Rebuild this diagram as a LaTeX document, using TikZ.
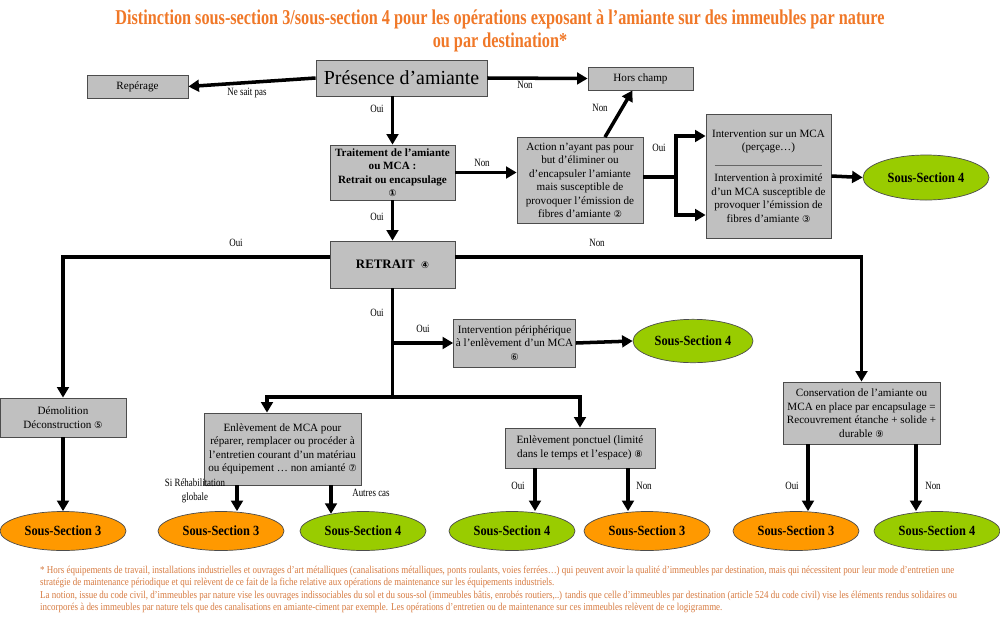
\documentclass[tikz,border=0pt]{standalone}
\usepackage{fontspec}
\setmainfont{Liberation Serif}
\newfontfamily\narrow[FakeStretch=0.8]{Liberation Serif}
\newfontfamily\headfont[FakeStretch=0.77]{Liberation Serif}
\newfontfamily\ovalfont[FakeStretch=0.88]{Liberation Serif}
\newfontfamily\notefont[FakeStretch=0.85]{Liberation Serif}
\newfontfamily\symb{DejaVu Sans}
\usetikzlibrary{arrows.meta,shapes.geometric}
\definecolor{titleorange}{RGB}{240,120,40}
\definecolor{noteorange}{RGB}{214,122,64}
\definecolor{ssorange}{RGB}{255,153,0}
\definecolor{ssgreen}{RGB}{153,204,0}
\definecolor{boxgray}{RGB}{192,192,192}
\newcommand\numc[1]{{\symb\fontsize{8}{9}\selectfont#1}}
\begin{document}
\begin{tikzpicture}[x=0.3mm,y=-0.3mm,
  box/.style={draw=black!70,fill=boxgray,line width=0.7pt,align=center,inner sep=2pt,
    font=\fontsize{9.5}{11.5}\selectfont},
  sect/.style={ellipse,draw=black!70,line width=0.6pt,inner sep=0pt,
    minimum width=37.8mm,minimum height=11.7mm,font=\ovalfont\bfseries\fontsize{12}{14}\selectfont},
  ss3/.style={sect,fill=ssorange},
  ss4/.style={sect,fill=ssgreen},
  lbl/.style={font=\narrow\fontsize{9.5}{11.5}\selectfont,align=center,inner sep=0pt},
  ln/.style={line width=3pt},
  arr/.style={ln,-{Triangle[length=9pt,width=10pt]}}]
\useasboundingbox (0,0) rectangle (1000,637);
% title
\node[text=titleorange,font=\headfont\bfseries\fontsize{18}{19}\selectfont,align=center] (title) at (500,31)
  {Distinction sous-section 3/sous-section 4 pour les opérations exposant à l’amiante sur des immeubles par nature\\ou par destination*};
% boxes
\node[box,minimum width=51.3mm,minimum height=10.8mm,font=\fontsize{17}{19}\selectfont] (pres) at (401.5,78) {Présence d’amiante};
\node[box,minimum width=30.3mm,minimum height=6.9mm] (rep) at (137.5,86.5) {Repérage};
\node[box,minimum width=31.5mm,minimum height=6.9mm] (hors) at (640.5,78.5) {Hors champ};
\node[box,minimum width=37.5mm,minimum height=16.5mm,font=\bfseries\fontsize{9.5}{11.5}\selectfont] (trait) at (392.5,172.5)
  {Traitement de l’amiante\\ou MCA :\\Retrait ou encapsulage\\\numc{①}};
\node[box,minimum width=37.8mm,minimum height=25.8mm] (action) at (580,180.5)
  {Action n’ayant pas pour\\but d’éliminer ou\\d’encapsuler l’amiante\\mais susceptible de\\provoquer l’émission de\\fibres d’amiante \numc{②}};
\node[box,minimum width=37.5mm,minimum height=37.2mm] (inter) at (768.5,176)
  {Intervention sur un MCA\\(perçage…)\\[15pt]Intervention à proximité\\d’un MCA susceptible de\\provoquer l’émission de\\fibres d’amiante \numc{③}};
\draw[black!60,line width=0.6pt] ([xshift=2.7mm,yshift=3.3mm]inter.west) -- ([xshift=-2.7mm,yshift=3.3mm]inter.east);
\node[box,minimum width=37.5mm,minimum height=14.1mm,font=\bfseries\fontsize{11}{13}\selectfont] (retrait) at (392.5,264.5) {RETRAIT\enspace\numc{④}};
\node[box,minimum width=35.7mm,minimum height=14.4mm] (periph) at (514.5,343)
  {Intervention périphérique\\à l’enlèvement d’un MCA\\\numc{⑥}};
\node[box,minimum width=37.8mm,minimum height=11.7mm] (demol) at (63,417.5) {Démolition\\Déconstruction \numc{⑤}};
\node[box,minimum width=47.1mm,minimum height=21.6mm] (enlev) at (282.5,449)
  {Enlèvement de MCA pour\\réparer, remplacer ou procéder à\\l’entretien courant d’un matériau\\ou équipement … non amianté \numc{⑦}};
\node[box,minimum width=45mm,minimum height=12mm] (ponct) at (580,448)
  {Enlèvement ponctuel (limité\\dans le temps et l’espace) \numc{⑧}};
\node[box,minimum width=47.1mm,minimum height=18.6mm] (cons) at (861.5,413)
  {Conservation de l’amiante ou\\MCA en place par encapsulage =\\Recouvrement étanche + solide +\\durable \numc{⑨}};
% ellipses
\node[ss4,minimum width=37.8mm,minimum height=13.5mm] (ssA) at (926,177.5) {Sous-Section 4};
\node[ss4,minimum width=36mm,minimum height=13mm] (ssB) at (693,341) {Sous-Section 4};
\node[ss3] (ss1) at (63,531) {Sous-Section 3};
\node[ss3] (ss2) at (221,531) {Sous-Section 3};
\node[ss4] (ss3) at (363,531) {Sous-Section 4};
\node[ss4] (ss4) at (512,531) {Sous-Section 4};
\node[ss3] (ss5) at (647,531) {Sous-Section 3};
\node[ss3] (ss6) at (796,531) {Sous-Section 3};
\node[ss4] (ss7) at (937,531) {Sous-Section 4};
% connectors
\draw[arr] (pres.west) -- (rep.east);
\draw[arr] (pres.east) -- (hors.west);
\draw[arr] (trait.north |- pres.south) -- (trait.north);
\draw[arr] (trait.east) -- (action.west |- trait.east);
\draw[arr] ([xshift=7.5mm]action.north) -- ([xshift=-2.4mm]hors.south);
\coordinate (fork) at (676,177);
\draw[ln] (action.east |- fork) -- (fork);
\draw[arr] (fork) |- ([yshift=12mm]inter.west);
\draw[arr] (fork) |- ([yshift=-11.7mm]inter.west);
\draw[arr] (inter.east) -- (ssA.west);
\draw[arr] (trait.south) -- (retrait.north);
\draw[arr] ([yshift=2.2mm]retrait.west) -| (demol.north);
\draw[arr] ([yshift=2.2mm]retrait.east) -| (cons.north);
\coordinate (join) at (392.5,397);
\draw[ln] (retrait.south) -- (join);
\draw[arr] (retrait.south |- periph.west) -- (periph.west);
\draw[arr] (periph.east) -- (ssB.west);
\draw[arr] (join) -| ([xshift=-4.65mm]enlev.north);
\draw[arr] (join) -| (ponct.north);
\draw[arr] (demol.south) -- (ss1.north);
\draw[arr] ([xshift=-13.65mm]enlev.south) -- ([xshift=-13.65mm]enlev.south |- ss2.north);
\draw[arr] ([xshift=14.55mm]enlev.south) -- ([xshift=14.55mm,yshift=-0.8mm]enlev.south |- ss3.north);
\draw[arr] ([xshift=-13.5mm]ponct.south) -- ([xshift=-13.5mm]ponct.south |- ss4.north);
\draw[arr] ([xshift=14.4mm]ponct.south) -- ([xshift=14.4mm]ponct.south |- ss5.north);
\draw[arr] ([xshift=-16.05mm]cons.south) -- ([xshift=-16.05mm]cons.south |- ss6.north);
\draw[arr] ([xshift=16.35mm]cons.south) -- ([xshift=16.35mm]cons.south |- ss7.north);
% labels
\node[lbl] (l1) at (247,93) {Ne sait pas};
\node[lbl] (l2) at (525,85) {Non};
\node[lbl] (l3) at (377,109) {Oui};
\node[lbl] (l4) at (600,108) {Non};
\node[lbl] (l5) at (482,163) {Non};
\node[lbl] (l6) at (659,148) {Oui};
\node[lbl] (l7) at (377,217) {Oui};
\node[lbl] (l8) at (236,243) {Oui};
\node[lbl] (l9) at (597,243) {Non};
\node[lbl] (l10) at (377,313) {Oui};
\node[lbl] (l11) at (423,329) {Oui};
\node[lbl] (l12) at (195,491) {Si Réhabilitation\\globale};
\node[lbl] (l13) at (371,493) {Autres cas};
\node[lbl] (l14) at (518,486) {Oui};
\node[lbl] (l15) at (644,486) {Non};
\node[lbl] (l16) at (792,486) {Oui};
\node[lbl] (l17) at (933,486) {Non};
% footnote
\node[anchor=north west,align=left,inner sep=0pt,text=noteorange,font=\notefont\fontsize{9}{10.4}\selectfont] (note) at (40,566)
  {* Hors équipements de travail, installations industrielles et ouvrages d’art métalliques (canalisations métalliques, ponts roulants, voies ferrées…) qui peuvent avoir la qualité d’immeubles par destination, mais qui nécessitent pour leur mode d’entretien une\\
  stratégie de maintenance périodique et qui relèvent de ce fait de la fiche relative aux opérations de maintenance sur les équipements industriels.\\
  La notion, issue du code civil, d’immeubles par nature vise les ouvrages indissociables du sol et du sous-sol (immeubles bâtis, enrobés routiers,..) tandis que celle d’immeubles par destination (article 524 du code civil) vise les éléments rendus solidaires ou\\
  incorporés à des immeubles par nature tels que des canalisations en amiante-ciment par exemple. Les opérations d’entretien ou de maintenance sur ces immeubles relèvent de ce logigramme.};
\end{tikzpicture}
\end{document}
